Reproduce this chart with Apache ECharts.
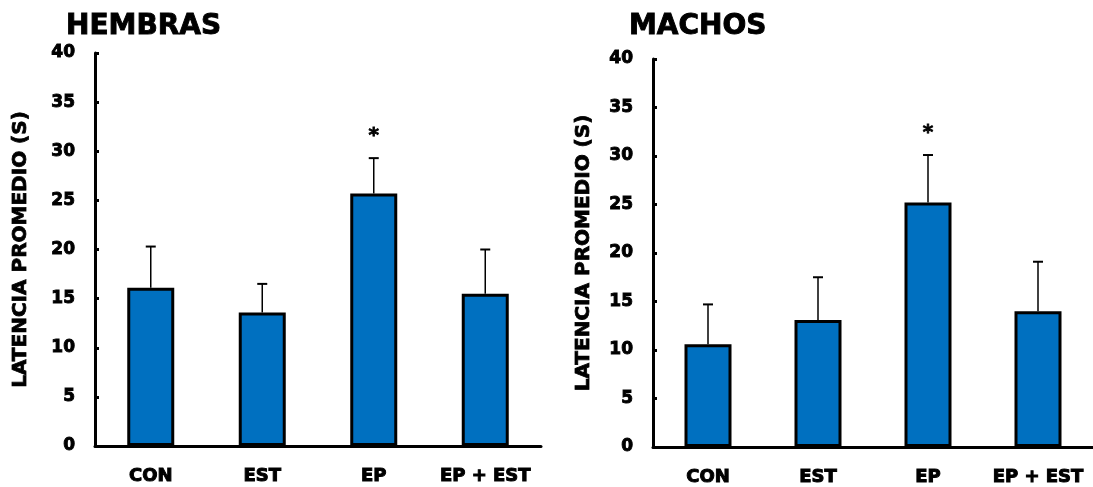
<!DOCTYPE html>
<html>
<head>
<meta charset="utf-8">
<script src="https://cdn.jsdelivr.net/npm/echarts@6/dist/echarts.min.js"></script>
<style>
html,body{margin:0;padding:0;background:#fff;}
#chart{width:1093px;height:487px;}
</style>
</head>
<body>
<div id="chart"></div>
<script>
const categories = ['CON', 'EST', 'EP', 'EP + EST'];
const hembrasMean = [16.1, 13.6, 25.7, 15.5];
const hembrasErr = [4.2, 2.9, 3.6, 4.5];
const hembrasSig = ['', '', '*', ''];
const machosMean = [10.6, 13.1, 25.2, 14.0];
const machosErr = [4.1, 4.4, 4.9, 5.1];
const machosSig = ['', '', '*', ''];
const panelTitles = ['HEMBRAS', 'MACHOS'];
const yAxisTitle = 'LATENCIA PROMEDIO (S)';
const yMin = 0, yMax = 40, yStep = 5;

const FONT = 'DejaVu Sans';
const chart = echarts.init(document.getElementById('chart'));

function heavy(size, border) {
  return {color: '#000', fontFamily: FONT, fontWeight: 'bold', fontSize: size,
          textBorderColor: '#000', textBorderWidth: border};
}

function errSeries(idx, means, errs, sig) {
  return {
    type: 'custom',
    xAxisIndex: idx, yAxisIndex: idx,
    z: 5,
    data: means.map((m, i) => [i, m, m + errs[i], sig[i]]),
    renderItem: function (params, api) {
      const base = api.coord([api.value(0), api.value(1)]);
      const top = api.coord([api.value(0), api.value(2)]);
      const s = api.value(3);
      const cap = 5;
      const children = [
        {type: 'line', shape: {x1: base[0], y1: base[1], x2: top[0], y2: top[1]}, style: {stroke: '#000', lineWidth: 1.5}},
        {type: 'line', shape: {x1: top[0] - cap, y1: top[1], x2: top[0] + cap, y2: top[1]}, style: {stroke: '#000', lineWidth: 2}}
      ];
      if (s) {
        children.push({type: 'text', x: top[0], y: top[1] - 22,
          style: {text: s, fill: '#000', font: 'bold 20px ' + FONT, align: 'center', verticalAlign: 'middle',
                  stroke: '#000', lineWidth: 0.8}});
      }
      return {type: 'group', children: children};
    }
  };
}

const grids = [
  {left: 95, top: 53, width: 446, height: 393},
  {left: 653, top: 59, width: 456, height: 388}
];

const xAxes = grids.map((g, i) => ({
  type: 'category', gridIndex: i, data: categories,
  axisLine: {lineStyle: {color: '#000', width: 3}},
  axisTick: {show: false},
  axisLabel: Object.assign(heavy(18, 1), {margin: 21, interval: 0})
}));

const yAxes = grids.map((g, i) => ({
  type: 'value', gridIndex: i, min: yMin, max: yMax, interval: yStep,
  name: yAxisTitle, nameLocation: 'middle', nameGap: i === 0 ? 64 : 59,
  nameTextStyle: heavy(20, 0.8),
  axisLine: {show: true, lineStyle: {color: '#000', width: 3}},
  axisTick: {show: true, inside: true, length: 4, lineStyle: {color: '#000', width: 3}},
  splitLine: {show: false},
  axisLabel: Object.assign(heavy(17, 0.9), {margin: 20})
}));

function barSeries(idx, means) {
  return {
    type: 'bar', xAxisIndex: idx, yAxisIndex: idx, data: means,
    barWidth: 47,
    itemStyle: {color: '#0070C0', borderColor: '#000', borderWidth: 3}
  };
}

chart.setOption({
  animation: false,
  title: [
    {text: panelTitles[0], left: 66, top: 13, padding: 0, textStyle: heavy(28, 0.9)},
    {text: panelTitles[1], left: 629, top: 13, padding: 0, textStyle: heavy(28, 0.9)}
  ],
  grid: grids,
  xAxis: xAxes,
  yAxis: yAxes,
  series: [
    barSeries(0, hembrasMean), errSeries(0, hembrasMean, hembrasErr, hembrasSig),
    barSeries(1, machosMean), errSeries(1, machosMean, machosErr, machosSig)
  ]
});
</script>
</body>
</html>
